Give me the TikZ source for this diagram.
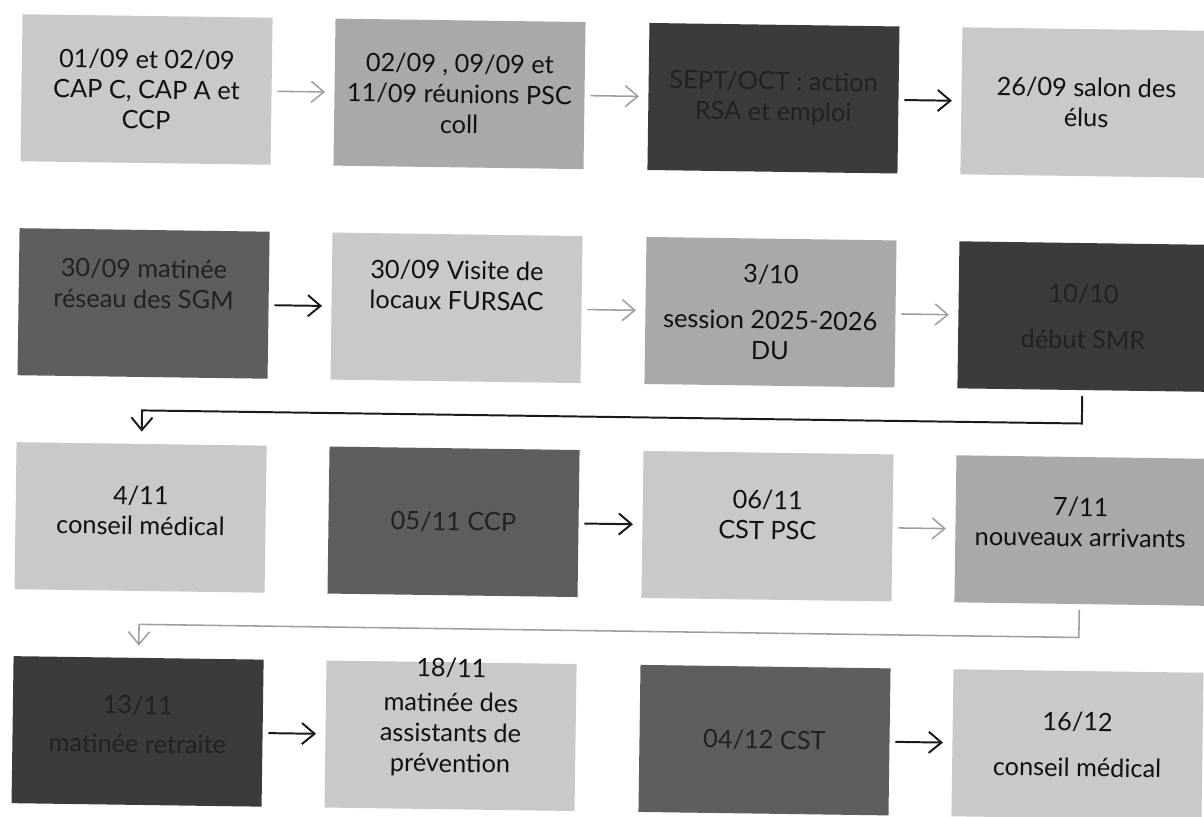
\documentclass[tikz,border=0pt]{standalone}
\usepackage{fontspec}
\setmainfont{Lato}
\usetikzlibrary{arrows.meta}
\definecolor{clair}{HTML}{C9C9C9}
\definecolor{moyen}{HTML}{A9A9A9}
\definecolor{fonce}{HTML}{5E5E5E}
\definecolor{noir}{HTML}{3B3B3B}
\definecolor{encre}{HTML}{111111}
\definecolor{encrefonce}{HTML}{222222}
\definecolor{flechegris}{HTML}{A0A0A0}
\definecolor{flechenoir}{HTML}{1A1A1A}
\newcommand{\Etape}[6]{
	\node[etape, fill=#3, label={[etiq, text=#4, yshift=#5]center:{#6}}] (#1) at (#2) {};
}

\begin{document}
\begin{tikzpicture}[x=0.025cm, y=-0.025cm,
	etape/.style={minimum width=6.25cm, minimum height=3.675cm, inner sep=0pt},
	etiq/.style={align=center, font=\fontsize{18}{21.6}\selectfont},
	fleche/.style={-{Straight Barb[length=9pt, width=15pt]}, line width=1.4pt, draw=flechenoir, shorten <=4pt, shorten >=6.5pt},
	flechegrise/.style={fleche, draw=flechegris, line width=1.1pt}]
	\path[use as bounding box, fill=white] (0,0) rectangle (1204,816);
	\begin{scope}[rotate around={-0.8:(612,417)}, transform shape]
	% septembre
	\Etape{b1}{142,96}{clair}{encre}{0pt}{01/09 et 02/09\\CAP C, CAP A et\\CCP}
	\Etape{b2}{455,96}{moyen}{encre}{0pt}{02/09 , 09/09 et\\11/09 réunions PSC\\coll}
	\Etape{b3}{769,96}{noir}{encrefonce}{0pt}{SEPT/OCT : action\\RSA et emploi}
	\Etape{b4}{1082,96}{clair}{encre}{0pt}{26/09 salon des\\élus}
	% fin septembre - octobre
	\Etape{b5}{142,310}{fonce}{encrefonce}{14pt}{30/09 matinée\\réseau des SGM}
	\Etape{b6}{455,310}{clair}{encre}{16pt}{30/09 Visite de\\locaux FURSAC}
	\Etape{b7}{769,310}{moyen}{encre}{0pt}{3/10\\[11pt]session 2025-2026\\DU}
	\Etape{b8}{1082,310}{noir}{encrefonce}{0pt}{10/10\\[11pt]début SMR}
	% novembre
	\Etape{b9}{142,524}{clair}{encre}{5pt}{4/11\\conseil médical}
	\Etape{b10}{455,524}{fonce}{encrefonce}{0pt}{05/11 CCP}
	\Etape{b11}{769,524}{clair}{encre}{8pt}{06/11\\CST PSC}
	\Etape{b12}{1082,524}{moyen}{encre}{6pt}{7/11\\nouveaux arrivants}
	% fin novembre - decembre
	\Etape{b13}{142,738}{noir}{encrefonce}{5pt}{13/11\\[6pt]matinée retraite}
	\Etape{b14}{455,738}{clair}{encre}{13pt}{18/11\\[3pt]matinée des\\assistants de\\prévention}
	\Etape{b15}{769,738}{fonce}{encrefonce}{0pt}{04/12 CST}
	\Etape{b16}{1082,738}{clair}{encre}{0pt}{16/12\\[11pt]conseil médical}

	\coordinate (k1) at (1082,417);
	\coordinate (k2) at (142,417);
	\coordinate (k3) at (1082,631);
	\coordinate (k4) at (142,631);

	\draw[flechegrise] (b1) -- (b2);
	\draw[flechegrise] (b2) -- (b3);
	\draw[fleche] (b3) -- (b4);
	\draw[fleche] (b5) -- (b6);
	\draw[flechegrise] (b6) -- (b7);
	\draw[flechegrise] (b7) -- (b8);
	\draw[fleche, shorten >=8.5pt] (b8.south) -- (k1) -- (k2) -- (b9.north);
	\draw[fleche] (b10) -- (b11);
	\draw[flechegrise] (b11) -- (b12);
	\draw[flechegrise, shorten >=8.5pt] (b12.south) -- (k3) -- (k4) -- (b13.north);
	\draw[fleche] (b13) -- (b14);
	\draw[fleche] (b15) -- (b16);
	\end{scope}
\end{tikzpicture}
\end{document}
